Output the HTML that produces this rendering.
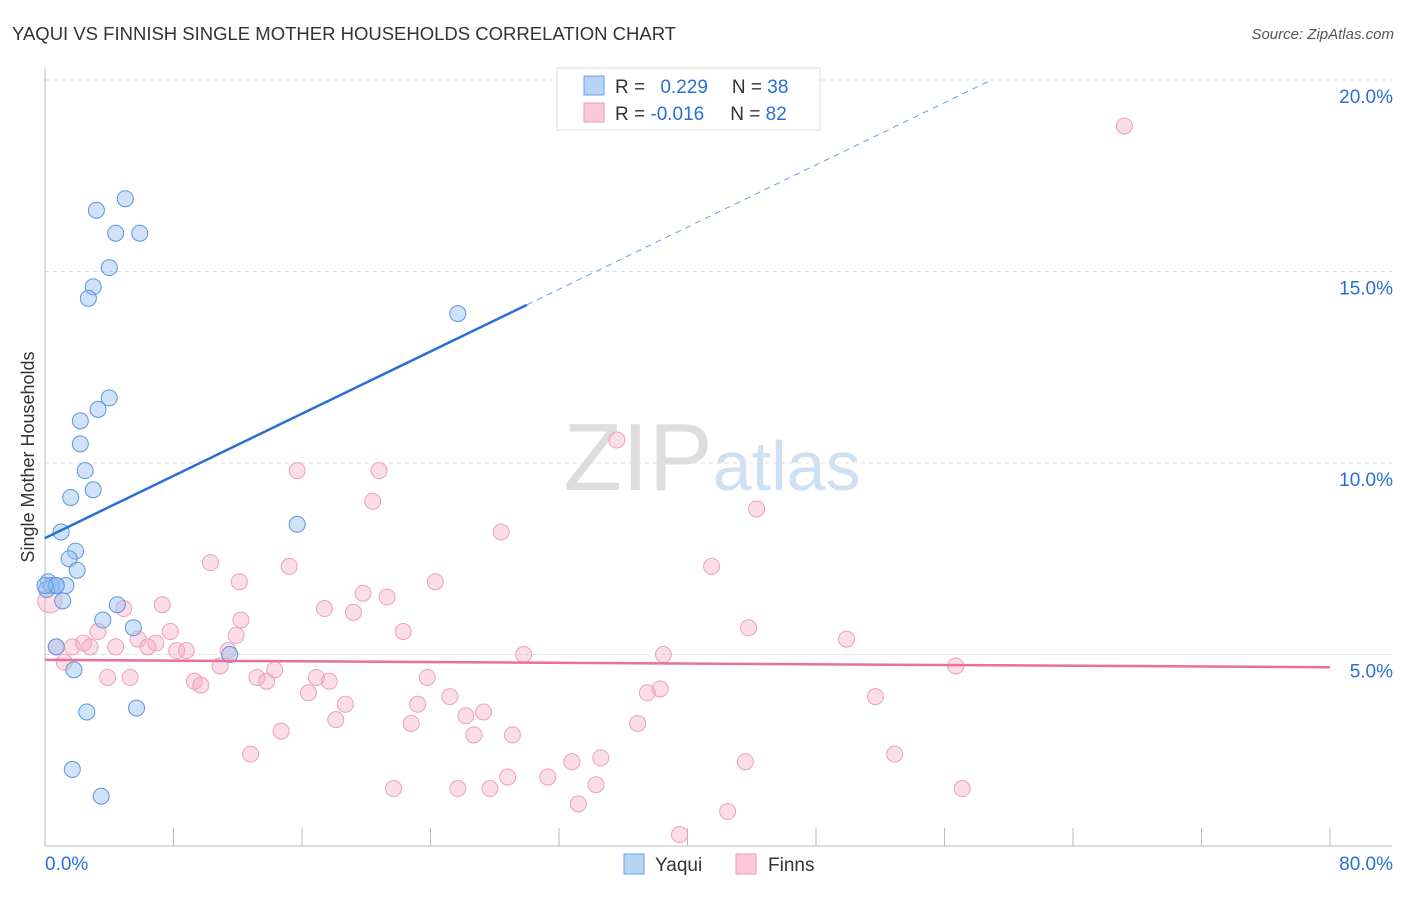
<!DOCTYPE html>
<html><head><meta charset="utf-8"><style>
body{margin:0;background:#fff;font-family:"Liberation Sans",sans-serif;}
svg text{font-family:"Liberation Sans",sans-serif;}
</style></head><body>
<svg id="chart" width="1406" height="892" xmlns="http://www.w3.org/2000/svg">
<text x="12" y="40" font-size="18.5" fill="#333">YAQUI VS FINNISH SINGLE MOTHER HOUSEHOLDS CORRELATION CHART</text>
<text x="1394" y="39" font-size="15" fill="#555" text-anchor="end" font-style="italic">Source: ZipAtlas.com</text>
<text x="712" y="490" font-size="96" fill="#ddd" text-anchor="middle" font-family="Liberation Serif">ZIP<tspan fill="#cfe0f3" font-family="Liberation Sans" font-size="70">atlas</tspan></text>
<g id="grid"></g><g id="axes"></g><g id="pts"></g><g id="lines"></g>
<text transform="translate(34,457) rotate(-90)" font-size="18" fill="#333" text-anchor="middle">Single Mother Households</text>
<g>
<rect x="557" y="68" width="263" height="62" fill="#fff" stroke="#ddd"/>
<rect x="584" y="76" width="20" height="19" fill="#b8d4f5" stroke="#6a9fe0"/>
<rect x="584" y="103" width="20" height="19" fill="#f9c9d8" stroke="#ec9ab4"/>
<text x="615" y="93" font-size="19" fill="#333">R = <tspan fill="#2a6fd6" dx="10">0.229</tspan><tspan dx="24" fill="#333">N = </tspan><tspan fill="#2a6fd6">38</tspan></text>
<text x="615" y="120" font-size="19" fill="#333">R = <tspan fill="#2a6fd6">-0.016</tspan><tspan dx="26" fill="#333">N = </tspan><tspan fill="#2a6fd6">82</tspan></text>
</g>
<g>
<rect x="624" y="854" width="20" height="20" fill="#b8d4f5" stroke="#6a9fe0"/>
<text x="655" y="871" font-size="19" fill="#333">Yaqui</text>
<rect x="736" y="854" width="20" height="20" fill="#f9c9d8" stroke="#ec9ab4"/>
<text x="768" y="871" font-size="19" fill="#333">Finns</text>
</g>
</svg>
<script>
const yTicks=[5,10,15,20];
const xTickLabels=["0.0%","80.0%"];
const yaquiX=[5.0,3.2,4.4,5.9,4.0,3.0,2.7,25.7,4.0,3.3,2.2,2.2,2.5,3.0,1.6,1.0,1.9,1.5,2.0,0.2,0.4,0.7,1.3,0.1,0.7,1.1,4.5,3.6,5.5,0.7,11.5,1.8,15.7,5.7,2.6,1.7,3.5,0.0];
const yaquiY=[16.9,16.6,16.0,16.0,15.1,14.6,14.3,13.9,11.7,11.4,11.1,10.5,9.8,9.3,9.1,8.2,7.7,7.5,7.2,6.9,6.8,6.8,6.8,6.7,6.8,6.4,6.3,5.9,5.7,5.2,5.0,4.6,8.4,3.6,3.5,2.0,1.3,6.8];
const finnX=[0.3,0.7,1.2,1.7,2.4,2.8,3.3,3.9,4.4,4.9,5.3,5.8,6.4,6.9,7.3,7.8,8.2,8.8,9.3,9.7,10.3,10.9,11.4,11.9,12.2,12.1,12.8,13.2,13.8,14.3,14.7,15.2,15.7,16.4,16.9,17.4,17.7,18.1,18.7,19.2,19.8,20.4,20.8,21.3,21.7,22.3,22.8,23.2,23.8,24.3,25.2,25.7,26.2,26.7,27.3,27.7,28.4,28.8,29.1,29.8,31.3,32.8,33.2,34.3,34.6,35.6,36.9,37.5,38.3,38.5,39.5,41.5,42.5,43.6,43.8,44.3,49.9,51.7,52.9,56.7,57.1,67.2];
const finnY=[6.4,5.2,4.8,5.2,5.3,5.2,5.6,4.4,5.2,6.2,4.4,5.4,5.2,5.3,6.3,5.6,5.1,5.1,4.3,4.2,7.4,4.7,5.1,5.5,5.9,6.9,2.4,4.4,4.3,4.6,3.0,7.3,9.8,4.0,4.4,6.2,4.3,3.3,3.7,6.1,6.6,9.0,9.8,6.5,1.5,5.6,3.2,3.7,4.4,6.9,3.9,1.5,3.4,2.9,3.5,1.5,8.2,1.8,2.9,5.0,1.8,2.2,1.1,1.6,2.3,10.6,3.2,4.0,4.1,5.0,0.3,7.3,0.9,2.2,5.7,8.8,5.4,3.9,2.4,4.7,1.5,18.8];
const blueFit=[8.04,0.203];
const pinkFit=[4.86,-0.0024];
const sx=v=>45+v*16.0625, sy=v=>846-v*38.3;
const NS="http://www.w3.org/2000/svg";
function mk(p,t,a){const e=document.createElementNS(NS,t);for(const k in a)e.setAttribute(k,a[k]);document.getElementById(p).appendChild(e);return e;}
yTicks.forEach(v=>{
 const l=mk('grid','line',{x1:45,x2:1392,y1:sy(v),y2:sy(v),stroke:'#ddd','stroke-dasharray':'4,4'});
 
 
 const t=mk('grid','text',{x:1393,y:sy(v)+23,'font-size':19,fill:'#2a6fd6','text-anchor':'end'});
 t.textContent=v.toFixed(1)+'%';
 
 
});
mk('axes','line',{x1:45,x2:45,y1:68,y2:846,stroke:'#bbb'});
mk('axes','line',{x1:45,x2:1392,y1:846,y2:846,stroke:'#bbb'});
for(let i=0;i<=10;i++){const x=sx(i*8);mk('axes','line',{x1:x,x2:x,y1:828,y2:846,stroke:'#bbb'});}
xTickLabels.forEach((s,i)=>{
 const t=mk('axes','text',{x:i?1393:45,y:870,'font-size':19,fill:'#2a6fd6','text-anchor':i?'end':'start'});
 t.textContent=s;
 
 
});
finnX.forEach((x,i)=>{
 const c=mk('pts','circle',{cx:sx(x),cy:sy(finnY[i]),r:i==0?12:8,fill:'rgba(246,170,196,0.4)',stroke:'#eea0bb','stroke-width':1});
 
 
});
yaquiX.forEach((x,i)=>{
 const c=mk('pts','circle',{cx:sx(x),cy:sy(yaquiY[i]),r:8,fill:'rgba(150,190,240,0.45)',stroke:'#5b95de','stroke-width':1});
 
 
});
const b1=mk('lines','line',{x1:sx(0),y1:sy(blueFit[0]),x2:sx(30),y2:sy(blueFit[0]+blueFit[1]*30),stroke:'#2a6fd6','stroke-width':2.5});


const b2=mk('lines','line',{x1:sx(30),y1:sy(blueFit[0]+blueFit[1]*30),x2:sx(58.8),y2:sy(blueFit[0]+blueFit[1]*58.8),stroke:'#6a9fe0','stroke-width':1,'stroke-dasharray':'6,5'});


const p1=mk('lines','line',{x1:sx(0),y1:sy(pinkFit[0]),x2:sx(80),y2:sy(pinkFit[0]+pinkFit[1]*80),stroke:'#e8709a','stroke-width':2.5});


</script>
</body></html>
